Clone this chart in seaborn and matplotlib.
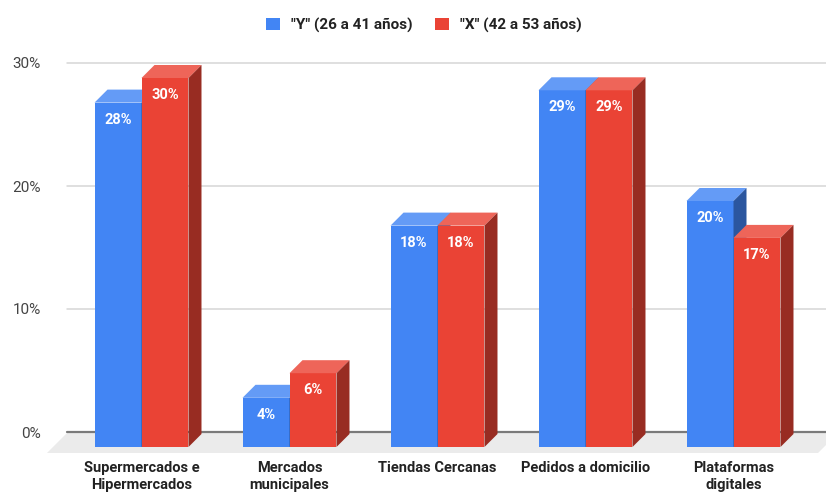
import numpy as np
import pandas as pd
import seaborn as sns
import matplotlib
matplotlib.use("Agg")
import matplotlib.pyplot as plt
import matplotlib.transforms as mtransforms
from matplotlib.patches import Polygon, Patch
from matplotlib.colors import to_rgb

# ---- data -------------------------------------------------------------
canales = [
    "Supermercados e\nHipermercados",
    "Mercados\nmunicipales",
    "Tiendas Cercanas",
    "Pedidos a domicilio",
    "Plataformas\ndigitales",
]
grupos = ['"Y" (26 a 41 años)', '"X" (42 a 53 años)']
valores_y = [28, 4, 18, 29, 20]
valores_x = [30, 6, 18, 29, 17]
colores = ["#4285F4", "#EA4335"]
yticks = [0, 10, 20, 30]
ytick_labels = ["0%", "10%", "20%", "30%"]

df = pd.DataFrame({
    "canal": canales * 2,
    "grupo": [grupos[0]] * len(canales) + [grupos[1]] * len(canales),
    "valor": [v / 100 for v in valores_y + valores_x],
})

# ---- figure -----------------------------------------------------------
sns.set_style("white")
plt.rcParams["font.family"] = ["Roboto", "DejaVu Sans"]

W, H, DPI = 826, 494, 100
fig = plt.figure(figsize=(W / DPI, H / DPI), dpi=DPI)
ax = fig.add_axes([67 / W, (H - 432) / H, (W - 67) / W, (432 - 63) / H])

sns.barplot(data=df, x="canal", y="valor", hue="grupo", palette=colores,
            width=0.635, saturation=1, legend=False, ax=ax)

ax.set_xlim(-74.5 / 148, (W - 141.5) / 148)
ax.set_ylim(0, 0.30)
ax.set_xlabel("")
ax.set_ylabel("")
for s in ax.spines.values():
    s.set_visible(False)

# back-wall gridlines
ax.set_yticks([t / 100 for t in yticks])
ax.set_yticklabels(ytick_labels)
for t in yticks[1:]:
    ax.axhline(t / 100, color="#d6d6d6", lw=1.1, zorder=0.5, clip_on=False)
ax.axhline(0, color="#7a7a7a", lw=1.6, zorder=1.2, clip_on=False)
ax.tick_params(axis="y", length=0, pad=19, labelsize=11, labelcolor="#444444")
ax.tick_params(axis="x", length=0, pad=21, labelsize=10.5, labelcolor="#222222")
for lab in ax.get_xticklabels():
    lab.set_fontweight("bold")
    lab.set_linespacing(1.3)

# floor of the 3D box (pixel space)
ident = mtransforms.IdentityTransform()
x_left = ax.transAxes.transform((0, 0))[0]
x_right = ax.transAxes.transform((1, 0))[0] + 12
y_floor = ax.transData.transform((0, 0))[1] - 1
floor_d = 20
floor = Polygon([(x_left, y_floor), (x_right, y_floor),
                 (x_right - floor_d, y_floor - floor_d),
                 (x_left - floor_d, y_floor - floor_d)],
                closed=True, transform=ident, facecolor="#ebebeb",
                edgecolor="none", zorder=1.0, clip_on=False)
ax.add_patch(floor)


def shade(c, f):
    r = np.array(to_rgb(c))
    if f >= 0:
        return tuple(r + (1 - r) * f)
    return tuple(r * (1 + f))


drop = 15    # front face sits this many pixels below the back wall
depth = 13   # visible depth of each bar
bar_shift = mtransforms.offset_copy(ax.transData, fig=fig, x=0, y=-drop, units="dots")

for level, (cont, col) in enumerate(zip(ax.containers, colores)):
    z = 3 + level
    for bar in cont:
        bar.set_transform(bar_shift)
        bar.set_clip_on(False)
        bar.set_zorder(z)
        bar.set_edgecolor("none")
        x0, w, h = bar.get_x(), bar.get_width(), bar.get_height()
        xl, yb = ax.transData.transform((x0, 0))
        xr, yt = ax.transData.transform((x0 + w, h))
        yb -= drop
        yt -= drop
        top = Polygon([(xl, yt), (xr, yt), (xr + depth, yt + depth), (xl + depth, yt + depth)],
                      closed=True, transform=ident, facecolor=shade(col, 0.18),
                      edgecolor="none", zorder=z + 0.1, clip_on=False)
        side = Polygon([(xr, yb), (xr + depth, yb + depth), (xr + depth, yt + depth), (xr, yt)],
                       closed=True, transform=ident, facecolor=shade(col, -0.35),
                       edgecolor="none", zorder=z + 0.1, clip_on=False)
        ax.add_patch(top)
        ax.add_patch(side)
        lab_tr = mtransforms.offset_copy(ax.transData, fig=fig, x=0, y=-drop - 17, units="dots")
        ax.text(x0 + w / 2, h, f"{round(h * 100):.0f}%", transform=lab_tr,
                ha="center", va="center", color="white", fontsize=10.5,
                fontweight="bold", zorder=z + 0.2, clip_on=False)

# legend
handles = [Patch(facecolor=c, edgecolor="none") for c in colores]
fig.legend(handles, grupos, loc="center", bbox_to_anchor=(424 / W, 1 - 25 / H),
           ncol=2, frameon=False, handlelength=0.9, handleheight=0.9,
           handletextpad=0.7, columnspacing=1.5,
           prop={"size": 11, "weight": "bold"}, labelcolor="#222222")

fig.savefig("out.png", dpi=DPI)
